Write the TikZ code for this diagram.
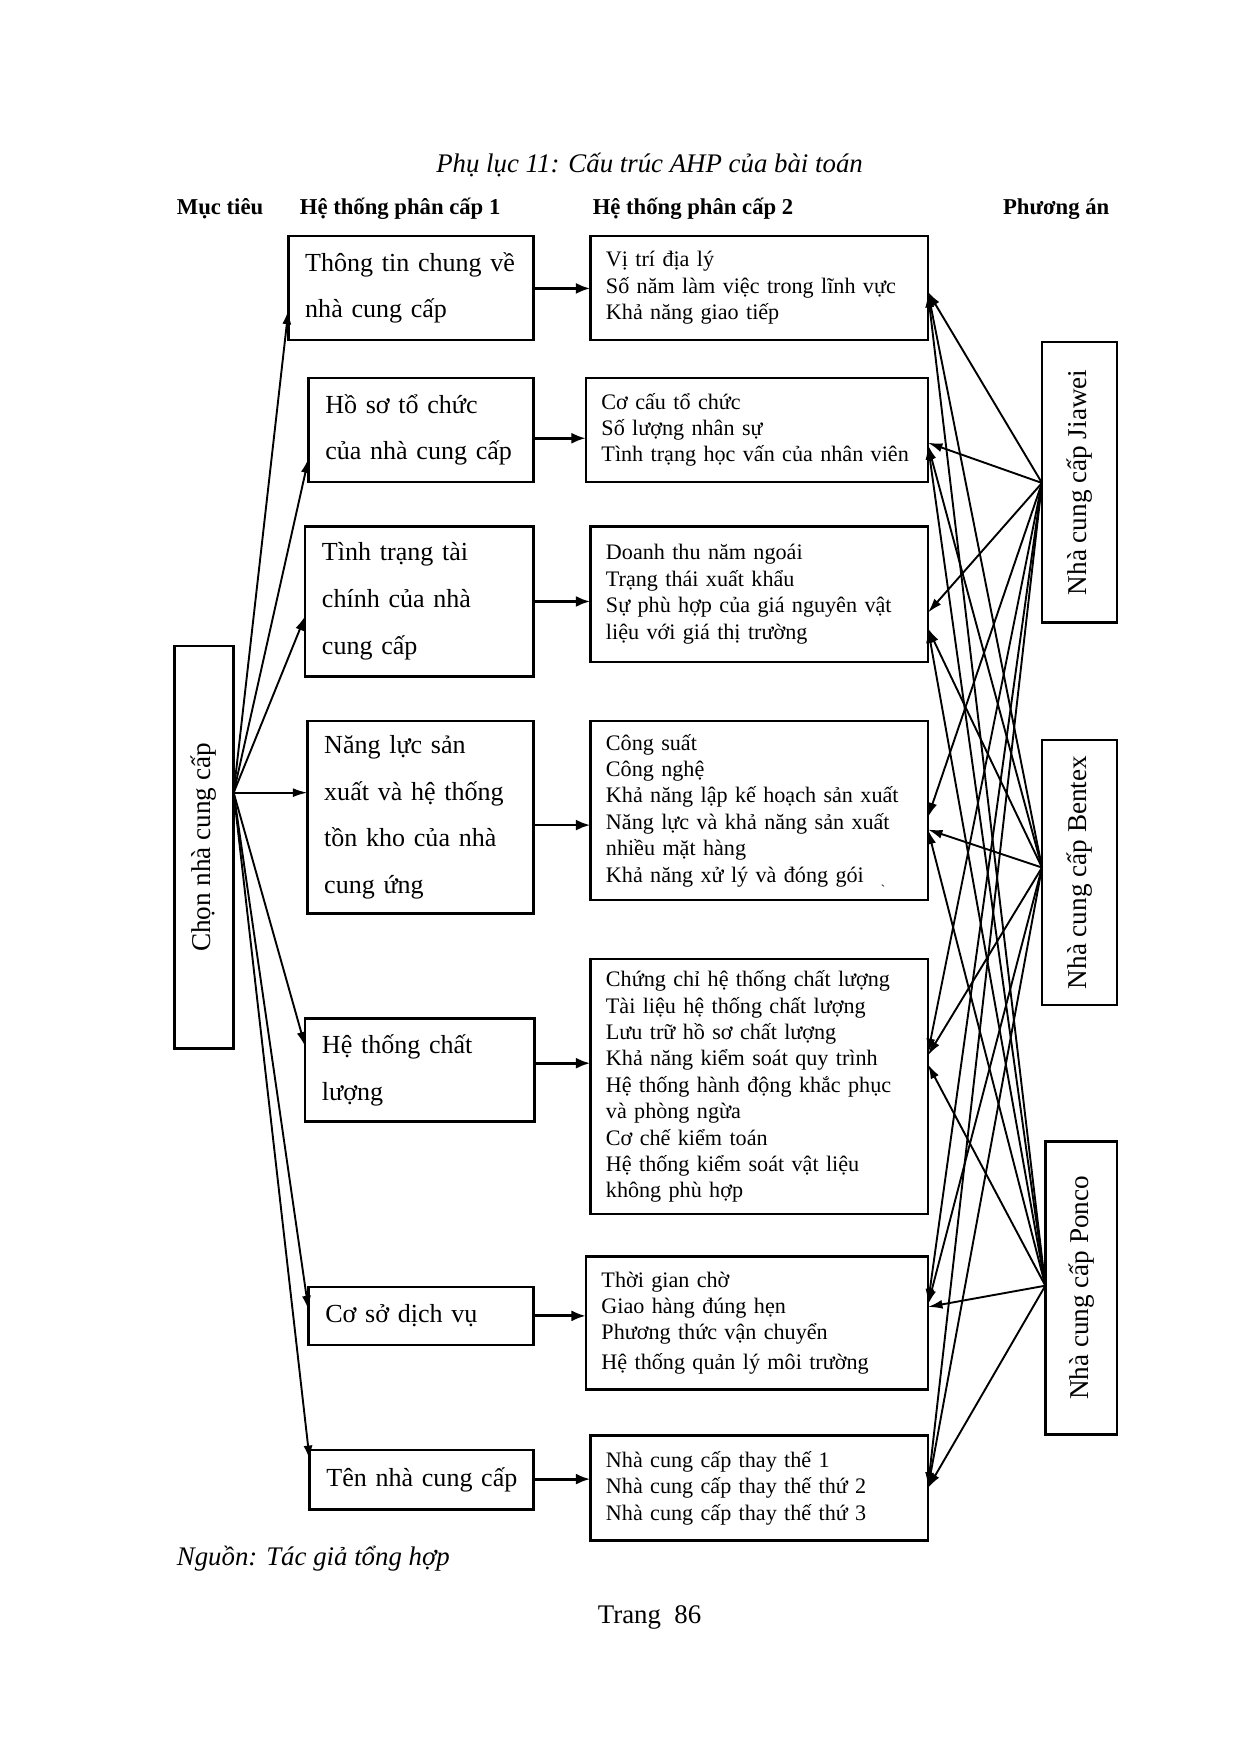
\documentclass[tikz,border=0pt]{standalone}
\usepackage{fontspec}
\setmainfont{Liberation Serif}
\usetikzlibrary{arrows.meta}
\begin{document}
\begin{tikzpicture}[x=1pt,y=-1pt,
  box/.style={draw,line width=2.2pt,inner ysep=0pt,outer sep=0pt},
  lone/.style={box,font=\fontsize{23.3}{42}\selectfont,align=left,inner xsep=15pt},
  ltwo/.style={box,font=\fontsize{19.8}{23.6}\selectfont,align=left,inner xsep=14pt},
  vbox/.style={box,rotate=90,font=\fontsize{24.3}{28}\selectfont},
  arr/.style={line width=1.7pt,-{Latex[length=13pt,width=8pt]}},
  harr/.style={line width=2.5pt,-{Latex[length=13pt,width=10pt]}},
  hdr/.style={font=\bfseries\fontsize{20.3}{23}\selectfont,anchor=west,inner sep=0pt},
  note/.style={font=\itshape\fontsize{24}{28}\selectfont,inner sep=0pt}]
\useasboundingbox[fill=white] (0,0) rectangle (1110,1568);

% title and headers
\node[note] (title) at (581,148) {Phụ lục 11: Cấu trúc AHP của bài toán};
\node[hdr] (h0) at (158,187) {Mục tiêu};
\node[hdr] (h1) at (268,187) {Hệ thống phân cấp 1};
\node[hdr] (h2) at (530,187) {Hệ thống phân cấp 2};
\node[hdr] (h3) at (897,187) {Phương án};

% goal
\node[vbox, minimum width=360, minimum height=53] (G) at (182.5,758) {Chọn nhà cung cấp};

% level 1
\node[lone, minimum width=219, minimum height=93, text width=189] (A1) at (367.5,257.5) {Thông tin chung về\\nhà cung cấp};
\node[lone, minimum width=201, minimum height=93, text width=171] (A2) at (376.5,384.5) {Hồ sơ tổ chức\\của nhà cung cấp};
\node[lone, minimum width=204, minimum height=134, text width=174] (A3) at (375,538) {Tình trạng tài\\chính của nhà\\cung cấp};
\node[lone, minimum width=202, minimum height=172, text width=172] (A4) at (376,731) {Năng lực sản\\xuất và hệ thống\\tồn kho của nhà\\cung ứng};
\node[lone, minimum width=205, minimum height=92, text width=175] (A5) at (375.5,957) {Hệ thống chất\\lượng};
\node[lone, minimum width=201, minimum height=52, text width=171] (A6) at (376.5,1177) {Cơ sở dịch vụ};
\node[lone, inner xsep=8pt, minimum width=200, minimum height=53, text width=184] (A7) at (377,1323.5) {\hspace*{7pt}Tên nhà cung cấp};

% level 2
\node[ltwo, minimum width=302, minimum height=93, text width=274] (B1) at (679,257.5) {Vị trí địa lý\\Số năm làm việc trong lĩnh vực\\Khả năng giao tiếp};
\node[ltwo, minimum width=306, minimum height=93, text width=278] (B2) at (677,384.5) {Cơ cấu tổ chức\\Số lượng nhân sự\\Tình trạng học vấn của nhân viên};
\node[ltwo, minimum width=302, minimum height=121, text width=274] (B3) at (679,531.5) {Doanh thu năm ngoái\\Trạng thái xuất khẩu\\Sự phù hợp của giá nguyên vật\\liệu với giá thị trường};
\node[ltwo, minimum width=302, minimum height=160, text width=274] (B4) at (679,725) {Công suất\\Công nghệ\\Khả năng lập kế hoạch sản xuất\\Năng lực và khả năng sản xuất\\nhiều mặt hàng\\Khả năng xử lý và đóng gói};
\node[ltwo, minimum width=302, minimum height=228, text width=274] (B5) at (679,972) {Chứng chỉ hệ thống chất lượng\\Tài liệu hệ thống chất lượng\\Lưu trữ hồ sơ chất lượng\\Khả năng kiểm soát quy trình\\Hệ thống hành động khắc phục\\và phòng ngừa\\Cơ chế kiểm toán\\Hệ thống kiểm soát vật liệu\\không phù hợp};
\node[ltwo, minimum width=306, minimum height=119, text width=278] (B6) at (677,1183.5) {Thời gian chờ\\Giao hàng đúng hẹn\\Phương thức vận chuyển\\[3pt]Hệ thống quản lý môi trường};
\node[ltwo, minimum width=302, minimum height=94, text width=274] (B7) at (679,1331) {Nhà cung cấp thay thế 1\\Nhà cung cấp thay thế thứ 2\\Nhà cung cấp thay thế thứ 3};
\node[inner sep=0pt,font=\fontsize{12}{12}\selectfont] (tick) at (790,796) {\textasciigrave};

% alternatives
\node[vbox, minimum width=251, minimum height=67] (C1) at (965.5,431.5) {Nhà cung cấp Jiawei};
\node[vbox, minimum width=237, minimum height=67] (C2) at (965.5,780.5) {Nhà cung cấp Bentex};
\node[vbox, minimum width=262, minimum height=64] (C3) at (967,1152) {Nhà cung cấp Ponco};

% goal -> level 1
\coordinate (g0) at (G.south |- 0,709);
\draw[arr] (g0) -- (A1.west |- 0,277);
\draw[arr] (g0) -- (A2.west |- 0,410);
\draw[arr] (g0) -- (A3.west |- 0,551);
\draw[arr] (g0) -- (A4.west |- 0,709);
\draw[arr] (g0) -- (A5.west |- 0,936);
\draw[arr] (g0) -- (A6.west |- 0,1172);
\draw[arr] (g0) -- (A7.west |- 0,1306);

% level 1 -> level 2
\draw[harr] (A1.east |- 0,258) -- (B1.west |- 0,258);
\draw[harr] (A2.east |- 0,392) -- (B2.west |- 0,392);
\draw[harr] (A3.east |- 0,538) -- (B3.west |- 0,538);
\draw[harr] (A4.east |- 0,738) -- (B4.west |- 0,738);
\draw[harr] (A5.east |- 0,951) -- (B5.west |- 0,951);
\draw[harr] (A6.east |- 0,1177) -- (B6.west |- 0,1177);
\draw[harr] (A7.east |- 0,1323) -- (B7.west |- 0,1323);

% alternatives -> level 2
\coordinate (j0) at (C1.north |- 0,432);
\coordinate (b0) at (C2.north |- 0,776);
\coordinate (p0) at (C3.north |- 0,1150);
\foreach \b/\y in {B1/261,B2/396,B3/548,B4/731,B5/942,B6/1166,B7/1330}
  \draw[arr] (j0) -- (\b.east |- 0,\y);
\foreach \b/\y in {B1/261,B2/398,B3/562,B4/742,B5/944,B6/1167,B7/1331}
  \draw[arr] (b0) -- (\b.east |- 0,\y);
\foreach \b/\y in {B1/262,B2/398,B3/562,B4/742,B5/952,B6/1169,B7/1331}
  \draw[arr] (p0) -- (\b.east |- 0,\y);

% footer
\node[note, anchor=west] (src) at (158,1394) {Nguồn: Tác giả tổng hợp};
\node[inner sep=0pt,font=\fontsize{24}{28}\selectfont] (page) at (581,1447) {Trang\ \ 86};
\end{tikzpicture}
\end{document}
